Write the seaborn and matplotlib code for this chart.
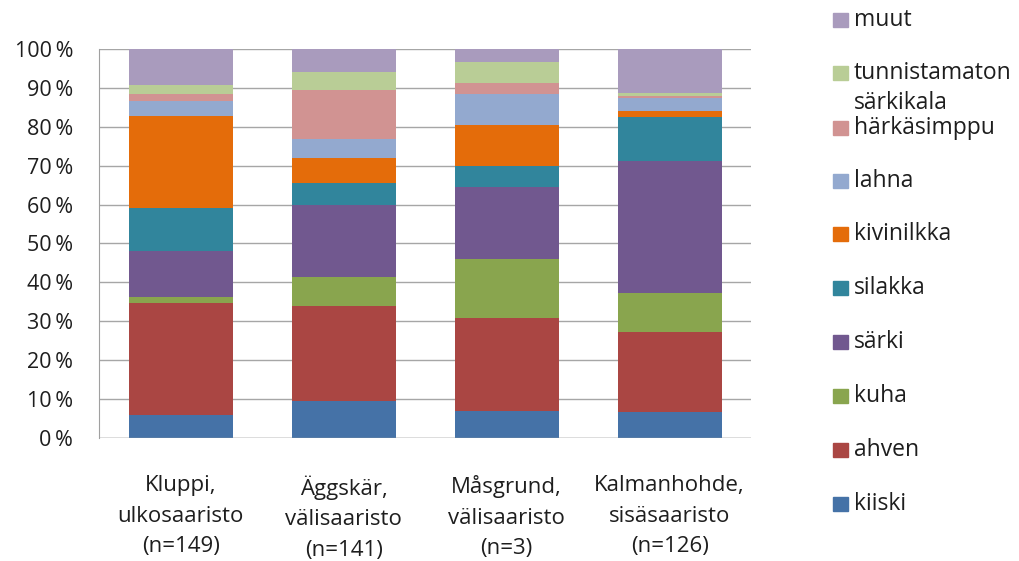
import numpy as np
import pandas as pd
import matplotlib.pyplot as plt
import seaborn as sns
from matplotlib.patches import Rectangle

# Data (share of catch, %)
sites = ["Kluppi,\nulkosaaristo\n(n=149)", "Äggskär,\nvälisaaristo\n(n=141)",
         "Måsgrund,\nvälisaaristo\n(n=3)", "Kalmanhohde,\nsisäsaaristo\n(n=126)"]
species = ["kiiski", "ahven", "kuha", "särki", "silakka", "kivinilkka",
           "lahna", "härkäsimppu", "tunnistamaton\nsärkikala", "muut"]
kiiski = [6.0, 9.4, 7.0, 6.8]
ahven = [28.8, 24.5, 23.9, 20.5]
kuha = [1.4, 7.6, 15.2, 9.9]
sarki = [11.9, 18.4, 18.4, 34.0]
silakka = [10.9, 5.7, 5.4, 11.2]
kivinilkka = [23.7, 6.3, 10.5, 1.7]
lahna = [4.0, 4.9, 7.9, 3.3]
harkasimppu = [1.7, 12.6, 3.0, 0.4]
tunnistamaton = [2.3, 4.6, 5.3, 0.9]
muut = [9.3, 6.0, 3.4, 11.3]

colors = ["#4572A7", "#AA4643", "#89A54E", "#71588F", "#31859C", "#E46C0A",
          "#93A9CF", "#D19392", "#B9CD96", "#A99BBD"]

df = pd.DataFrame([kiiski, ahven, kuha, sarki, silakka, kivinilkka,
                   lahna, harkasimppu, tunnistamaton, muut],
                  index=species, columns=sites)
cum = df.cumsum()

sns.set_style("white")
plt.rcParams['font.family'] = ['Open Sans', 'DejaVu Sans']
txt_col = '#1e1e1e'

fig = plt.figure(figsize=(10.19, 5.61), dpi=100)
ax = fig.add_axes([0.0976, 0.2193, 0.6395, 0.6934])

# stacked bars: draw cumulative totals from top layer down
for i in range(len(species) - 1, -1, -1):
    sns.barplot(x=sites, y=cum.iloc[i].values, color=colors[i],
                width=0.64, saturation=1, linewidth=0, ax=ax, zorder=2)

ax.set_ylim(0, 100)
ax.set_xlim(-0.5, 3.5)
ax.set_yticks(np.arange(0, 101, 10))
ax.set_yticklabels([f"{v}\u2009%" for v in range(0, 101, 10)], fontsize=15.5,
                   color=txt_col)
ax.set_xticks(range(len(sites)))
ax.set_xticklabels(sites, fontsize=16, linespacing=1.58, color=txt_col)
ax.tick_params(axis='x', length=0, pad=27)
ax.tick_params(axis='y', length=0, pad=19)
ax.yaxis.grid(True, color='#A6A6A6', linewidth=1, zorder=0)
ax.set_axisbelow(True)
for s in ['top', 'right', 'bottom']:
    ax.spines[s].set_visible(False)
ax.spines['left'].set_color('#A0A0A0')
ax.axhline(0, color='#A0A0A0', linewidth=1, zorder=3)
ax.set_xlabel("")
ax.set_ylabel("")

# legend drawn by hand (top entry first)
ys = [20, 73, 128, 181, 234, 288, 342, 396, 450, 504]
W, H = 1019, 561
for name, col, y in zip(species[::-1], colors[::-1], ys):
    fig.add_artist(Rectangle((833 / W, 1 - (y + 7) / H), 15 / W, 14 / H,
                             transform=fig.transFigure, color=col))
    lines = name.split("\n")
    for k, t in enumerate(lines):
        fig.text(854 / W, 1 - (y + k * 30) / H, t, fontsize=16.5,
                 va='center', ha='left', color=txt_col)

plt.savefig("out.png", dpi=100)
